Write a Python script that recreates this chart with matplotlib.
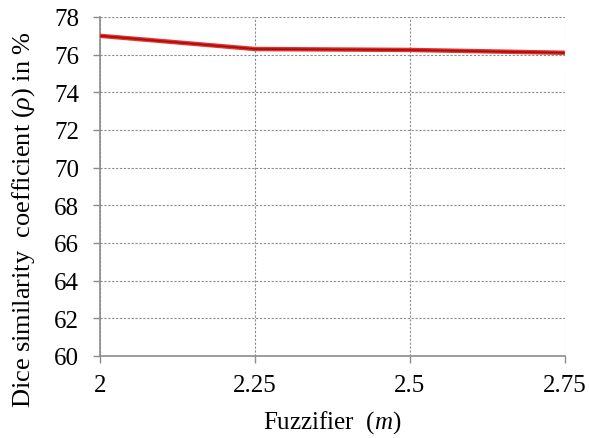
import matplotlib
matplotlib.use("Agg")
import matplotlib.pyplot as plt

# Dice similarity vs. fuzzifier
fuzzifier = [2.0, 2.25, 2.5, 2.75]
dice = [77.0, 76.3, 76.25, 76.1]
x_ticks = [2.0, 2.25, 2.5, 2.75]
x_tick_labels = ["2", "2.25", "2.5", "2.75"]
y_ticks = list(range(60, 79, 2))

plt.rcParams["font.family"] = "serif"
plt.rcParams["font.serif"] = ["Liberation Serif", "DejaVu Serif"]
plt.rcParams["mathtext.fontset"] = "custom"
plt.rcParams["mathtext.it"] = "Liberation Serif:italic"
plt.rcParams["mathtext.rm"] = "Liberation Serif"

fig = plt.figure(figsize=(5.89, 4.39), dpi=100)
ax = fig.add_axes([0.170, 0.187, 0.789, 0.772])

ax.plot(fuzzifier, dice, color="#e8302a", lw=3.2, solid_capstyle="butt", zorder=3)
ax.plot(fuzzifier, dice, color="#9e1010", lw=1.2, solid_capstyle="butt", zorder=4)

ax.set_xlim(2.0, 2.75)
ax.set_ylim(60, 78)
ax.set_xticks(x_ticks)
ax.set_xticklabels(x_tick_labels)
ax.set_yticks(y_ticks)

ax.grid(True, color="#8c8c8c", linestyle=(0, (2.0, 1.5)), linewidth=0.8)
ax.set_axisbelow(True)

for side in ("top", "right"):
    ax.spines[side].set_visible(False)
for side in ("left", "bottom"):
    ax.spines[side].set_color("#8c8c8c")
    ax.spines[side].set_linewidth(1.2)

ax.tick_params(axis="both", colors="#8c8c8c", labelcolor="black",
               labelsize=18, length=5, width=1.0, direction="out")
ax.tick_params(axis="x", pad=8)
ax.tick_params(axis="y", pad=10)

ax.set_xlabel(r"Fuzzifier  $(m)$", fontsize=18, labelpad=9)
ax.set_ylabel(r"Dice similarity  coefficient ($\rho$) in %", fontsize=19)
ax.yaxis.set_label_coords(-0.135, 0.405)

fig.savefig("out.png", dpi=100, facecolor="white")
